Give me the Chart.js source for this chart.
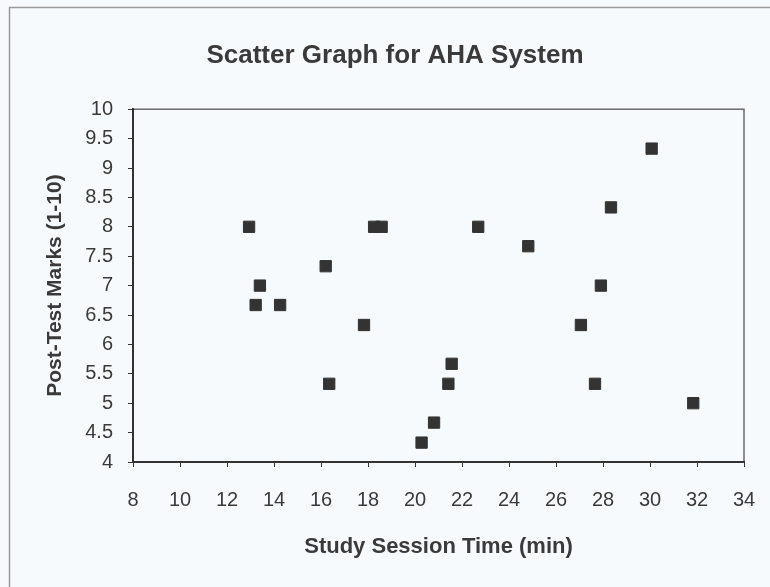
<!DOCTYPE html>
<html lang="en">
<head>
    <meta charset="UTF-8">
    <title>Scatter Graph for AHA System</title>
    <script src="https://cdn.jsdelivr.net/npm/chart.js"></script>
    <style>
        body { margin: 0; background: #f7fafc; }
        canvas { display: block; }
    </style>
</head>
<body>

    <canvas id="scatterChart" width="770" height="587"></canvas>

    <script>
        // Study session time (min) and post-test mark for each student
        let sessionMinutes = [12.94, 13.40, 13.22, 14.26, 16.20, 17.83, 16.35, 18.26, 18.58, 20.28, 20.81,
                              21.42, 21.56, 22.69, 24.82, 27.06, 27.66, 27.91, 28.34, 30.07, 31.84];
        let testMarks = [8, 7, 6.67, 6.67, 7.33, 6.33, 5.33, 8, 8, 4.33, 4.67,
                         5.33, 5.67, 8, 7.67, 6.33, 5.33, 7, 8.33, 9.33, 5];

        let xRange = [8, 34];
        let yRange = [4, 10];

        let points = sessionMinutes.map((m, i) => ({ x: m, y: testMarks[i] }));

        let textColor = '#3a3a3a';
        let fontFamily = '"Liberation Sans", Arial, sans-serif';

        // background, outer frame and plot-area box
        let framePlugin = {
            id: 'frame',
            beforeDraw(chart) {
                let ctx = chart.ctx;
                let a = chart.chartArea;
                ctx.save();
                ctx.fillStyle = '#f7fafc';
                ctx.fillRect(0, 0, chart.width, chart.height);
                ctx.strokeStyle = '#9a9a9a';
                ctx.lineWidth = 1.5;
                ctx.beginPath();
                ctx.moveTo(9.5, chart.height);
                ctx.lineTo(9.5, 7.5);
                ctx.lineTo(chart.width, 7.5);
                ctx.stroke();
                ctx.strokeStyle = '#6a6a6a';
                ctx.lineWidth = 1.5;
                ctx.strokeRect(a.left, a.top, a.right - a.left, a.bottom - a.top);
                ctx.restore();
            }
        };

        let scatterChart = new Chart(document.getElementById('scatterChart'), {
            type: 'scatter',
            data: {
                datasets: [{
                    data: points,
                    pointStyle: 'rect',
                    pointRadius: 8,
                    borderWidth: 1,
                    backgroundColor: '#333333',
                    borderColor: '#333333'
                }]
            },
            options: {
                responsive: false,
                animation: false,
                layout: { padding: { left: 46, right: 26, top: 0, bottom: 0 } },
                plugins: {
                    legend: { display: false },
                    tooltip: { enabled: false },
                    title: {
                        display: true,
                        text: 'Scatter Graph for AHA System',
                        color: textColor,
                        font: { family: fontFamily, size: 26, weight: 'bold', lineHeight: 1.2 },
                        padding: { top: 40, bottom: 38 }
                    }
                },
                scales: {
                    x: {
                        type: 'linear',
                        min: xRange[0],
                        max: xRange[1],
                        afterFit: (scale) => {
                            scale.height = 125;
                            scale.paddingLeft = 0;
                            scale.paddingRight = 0;
                        },
                        ticks: {
                            stepSize: 2,
                            color: textColor,
                            padding: 21,
                            font: { family: fontFamily, size: 20 }
                        },
                        grid: { drawOnChartArea: false, tickLength: 5, color: '#333333' },
                        border: { color: '#333333', width: 2 },
                        title: {
                            display: true,
                            text: 'Study Session Time (min)',
                            color: textColor,
                            font: { family: fontFamily, size: 22, weight: 'bold', lineHeight: 1.2 },
                            padding: { top: 0, bottom: 27 }
                        }
                    },
                    y: {
                        min: yRange[0],
                        max: yRange[1],
                        afterFit: (scale) => { scale.width = 87; },
                        ticks: {
                            stepSize: 0.5,
                            color: textColor,
                            padding: 15,
                            font: { family: fontFamily, size: 20 },
                            callback: (v) => String(v)
                        },
                        grid: { drawOnChartArea: false, tickLength: 5, color: '#333333' },
                        border: { color: '#333333', width: 2 },
                        title: {
                            display: true,
                            text: 'Post-Test Marks (1-10)',
                            color: textColor,
                            font: { family: fontFamily, size: 21, weight: 'bold', lineHeight: 1.2 },
                            padding: { top: -3, bottom: 0 }
                        }
                    }
                }
            },
            plugins: [framePlugin]
        });
    </script>

</body>
</html>
